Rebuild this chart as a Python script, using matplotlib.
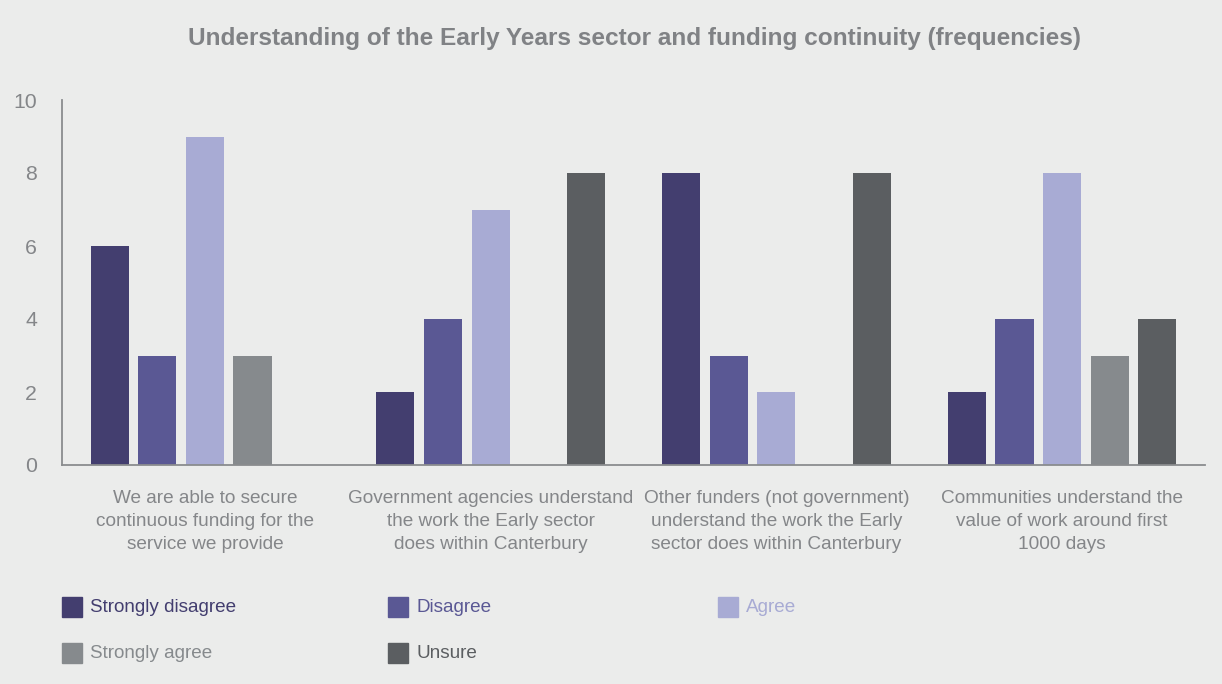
import numpy as np
import matplotlib.pyplot as plt
from matplotlib.patches import Rectangle

plt.rcParams["font.family"] = ["Liberation Sans", "DejaVu Sans"]

categories = [
    "We are able to secure\ncontinuous funding for the\nservice we provide",
    "Government agencies understand\nthe work the Early sector\ndoes within Canterbury",
    "Other funders (not government)\nunderstand the work the Early\nsector does within Canterbury",
    "Communities understand the\nvalue of work around first\n1000 days",
]
series_names = ["Strongly disagree", "Disagree", "Agree", "Strongly agree", "Unsure"]
strongly_disagree = [6, 2, 8, 2]
disagree = [3, 4, 3, 4]
agree = [9, 7, 2, 8]
strongly_agree = [3, 0, 0, 3]
unsure = [0, 8, 8, 4]
y_ticks = [0, 2, 4, 6, 8, 10]

colors = ["#433e6f", "#5a5894", "#a8abd4", "#868a8d", "#5b5e61"]
bg = "#ebeceb"
text_grey = "#848689"

values = [strongly_disagree, disagree, agree, strongly_agree, unsure]

fig = plt.figure(figsize=(12.22, 6.84), dpi=100, facecolor=bg)
ax = fig.add_axes([62 / 1222, 219 / 684, 1143 / 1222, 365 / 684])
ax.set_facecolor(bg)

x = np.arange(len(categories))
slot = 1 / 6
for i, (vals, col) in enumerate(zip(values, colors)):
    ax.bar(x + (i - 2) * slot, vals, width=0.8 * slot, color=col, zorder=2)

ax.set_xlim(-0.5, len(categories) - 0.5)
ax.set_ylim(0, 10)
ax.set_yticks(y_ticks)
ax.set_xticks(x)
ax.set_xticklabels(categories, fontsize=13.7, color=text_grey, linespacing=1.45)
ax.tick_params(axis="y", length=0, pad=18, labelsize=15.3, labelcolor=text_grey)
ax.tick_params(axis="x", length=0, pad=18)
for lab in ax.get_yticklabels():
    lab.set_horizontalalignment("right")

for side in ["top", "right"]:
    ax.spines[side].set_visible(False)
for side in ["left", "bottom"]:
    ax.spines[side].set_color("#8a8c8e")
    ax.spines[side].set_linewidth(1.3)

fig.text(635 / 1222, 1 - 38 / 684,
         "Understanding of the Early Years sector and funding continuity (frequencies)",
         ha="center", va="center", fontsize=17.6, fontweight="bold", color="#808285")

# legend laid out in two rows, three columns
legend_pos = [(62, 607), (388, 607), (718, 607), (62, 653), (388, 653)]
for name, col, (px, py) in zip(series_names, colors, legend_pos):
    fig.patches.append(Rectangle((px / 1222, 1 - (py + 10) / 684), 20 / 1222, 20 / 684,
                                 transform=fig.transFigure, color=col))
    fig.text((px + 28) / 1222, 1 - py / 684, name, ha="left", va="center",
             fontsize=13.6, color=col)

fig.savefig("out.png", dpi=100, facecolor=bg)
